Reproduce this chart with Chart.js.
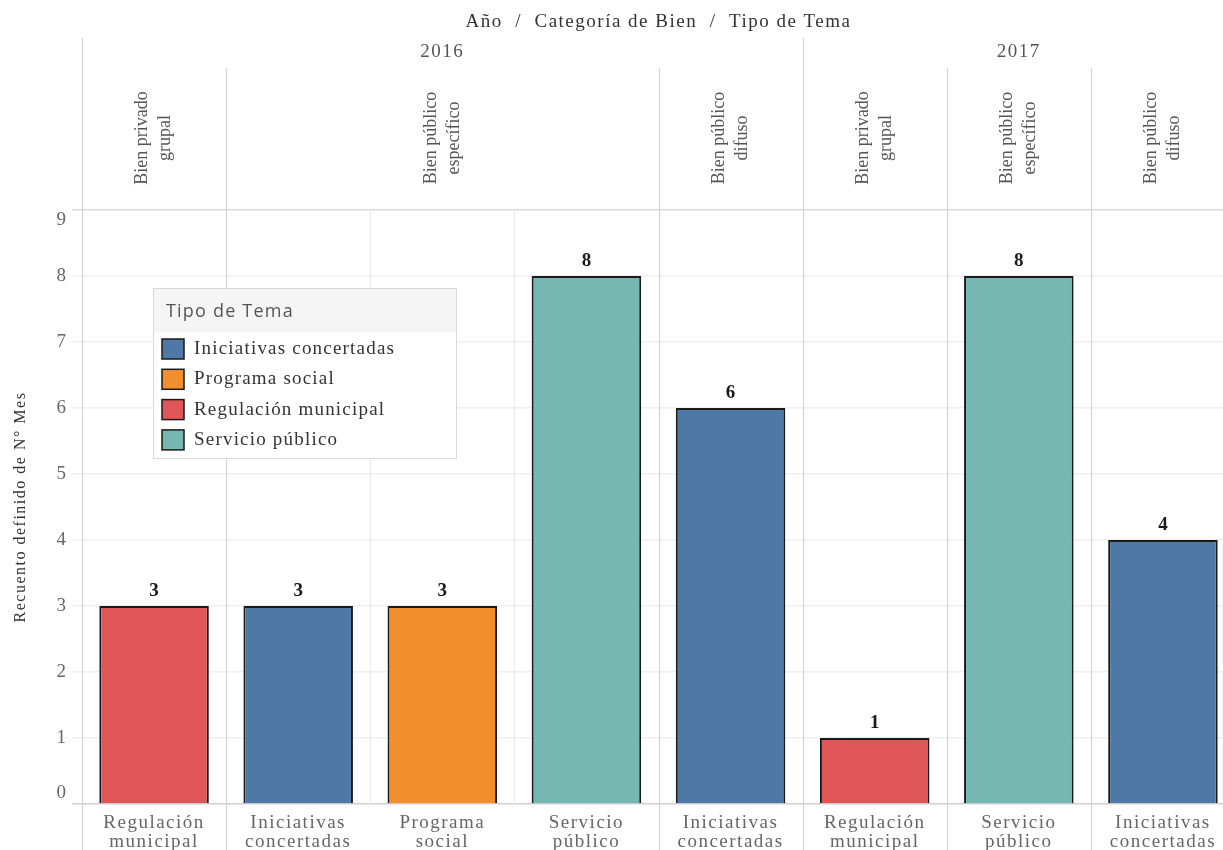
<!DOCTYPE html>
<html>
<head>
<meta charset="utf-8">
<script src="https://cdn.jsdelivr.net/npm/chart.js@4.4.0/dist/chart.umd.min.js"></script>
<style>
  html, body { margin: 0; padding: 0; background: #fff; overflow: hidden; }
  #wrap { width: 1235px; height: 850px; }
</style>
</head>
<body>
<div id="wrap"><canvas id="chart" width="1235" height="850"></canvas></div>
<script>
const anios = ["2016", "2016", "2016", "2016", "2016", "2017", "2017", "2017"];
const categorias = [
  "Bien privado grupal", "Bien público específico", "Bien público específico", "Bien público específico",
  "Bien público difuso", "Bien privado grupal", "Bien público específico", "Bien público difuso"
];
const temas = [
  "Regulación municipal", "Iniciativas concertadas", "Programa social", "Servicio público",
  "Iniciativas concertadas", "Regulación municipal", "Servicio público", "Iniciativas concertadas"
];
const recuento = [3, 3, 3, 8, 6, 1, 8, 4];
const temasLeyenda = ["Iniciativas concertadas", "Programa social", "Regulación municipal", "Servicio público"];
const yTicks = [0, 1, 2, 3, 4, 5, 6, 7, 8, 9];

const colorTema = {
  "Iniciativas concertadas": "#4e79a7",
  "Programa social": "#f28e2b",
  "Regulación municipal": "#e15759",
  "Servicio público": "#76b7b2"
};

const SERIF = '"Liberation Serif", "Times New Roman", serif';
const ESPACIADO = "1.5px";

// two-line labels
function partir(texto) {
  const i = texto.indexOf(" ");
  return [texto.slice(0, i), texto.slice(i + 1)];
}
function partirUltimo(texto) {
  const i = texto.lastIndexOf(" ");
  return [texto.slice(0, i), texto.slice(i + 1)];
}

// consecutive runs of the same key
function tramos(claves) {
  const out = [];
  claves.forEach((k, i) => {
    const ultimo = out[out.length - 1];
    if (ultimo && ultimo.clave === k) ultimo.fin = i;
    else out.push({ clave: k, inicio: i, fin: i });
  });
  return out;
}

function bordeColumna(chart, i) {
  const a = chart.chartArea, x = chart.scales.x, n = recuento.length;
  if (i === 0) return a.left;
  if (i === n) return a.right;
  return (x.getPixelForValue(i - 1) + x.getPixelForValue(i)) / 2;
}

const encabezados = {
  id: "encabezados",
  beforeDraw(chart) {
    chart.ctx.letterSpacing = ESPACIADO;
  },
  beforeDatasetsDraw(chart) {
    const { ctx, chartArea: a } = chart;
    const H = chart.height;
    ctx.save();
    ctx.lineWidth = 1.2;
    for (let i = 0; i < recuento.length; i++) {
      const px = Math.round(bordeColumna(chart, i)) + 0.5;
      let y0, y1, color;
      if (i === 0 || anios[i] !== anios[i - 1]) {
        y0 = 38; y1 = H; color = "#d4d4d4";
      } else if (categorias[i] !== categorias[i - 1]) {
        y0 = 68; y1 = H; color = "#d4d4d4";
      } else {
        y0 = a.top; y1 = a.bottom; color = "#ebebeb";
      }
      ctx.strokeStyle = color;
      ctx.beginPath();
      ctx.moveTo(px, y0);
      ctx.lineTo(px, y1);
      ctx.stroke();
    }
    ctx.restore();
  },
  afterDatasetsDraw(chart) {
    const ctx = chart.ctx;
    const meta = chart.getDatasetMeta(0);
    ctx.save();
    ctx.letterSpacing = "0px";
    ctx.font = "bold 19px " + SERIF;
    ctx.fillStyle = "#1a1a1a";
    ctx.textAlign = "center";
    ctx.textBaseline = "middle";
    meta.data.forEach((bar, i) => {
      ctx.fillText(String(recuento[i]), bar.x, bar.y - 15);
    });
    ctx.restore();
  },
  afterDraw(chart) {
    const { ctx, chartArea: a, scales: { y } } = chart;
    ctx.save();
    ctx.letterSpacing = ESPACIADO;
    ctx.textAlign = "center";
    ctx.textBaseline = "middle";

    // title row
    ctx.font = "19px " + SERIF;
    ctx.fillStyle = "#333";
    ctx.fillText("Año  /  Categoría de Bien  /  Tipo de Tema", (a.left + a.right) / 2, 22);

    // year row
    ctx.fillStyle = "#555";
    tramos(anios).forEach(t => {
      const cx = (bordeColumna(chart, t.inicio) + bordeColumna(chart, t.fin + 1)) / 2;
      ctx.fillText(t.clave, cx, 52);
    });

    // category row, rotated
    ctx.letterSpacing = "0px";
    ctx.font = "18px " + SERIF;
    tramos(anios.map((an, i) => an + "|" + categorias[i])).forEach(t => {
      const cx = (bordeColumna(chart, t.inicio) + bordeColumna(chart, t.fin + 1)) / 2;
      const lineas = partirUltimo(categorias[t.inicio]);
      ctx.save();
      ctx.translate(cx, 138);
      ctx.rotate(-Math.PI / 2);
      lineas.forEach((l, k) => ctx.fillText(l, 0, (k - 0.5) * 23));
      ctx.restore();
    });

    // y tick labels, end values kept inside the plot band
    ctx.letterSpacing = ESPACIADO;
    ctx.font = "19px " + SERIF;
    ctx.fillStyle = "#666";
    yTicks.forEach(v => {
      let py = y.getPixelForValue(v);
      py = Math.min(Math.max(py, a.top + 10), a.bottom - 11);
      ctx.fillText(String(v), 62, py);
    });

    // legend
    const lx = 153.5, ly = 288.5, lw = 303, lh = 170;
    ctx.fillStyle = "#fff";
    ctx.fillRect(lx, ly, lw, lh);
    ctx.fillStyle = "#f5f5f5";
    ctx.fillRect(lx, ly, lw, 44);
    ctx.strokeStyle = "#d9d9d9";
    ctx.lineWidth = 1;
    ctx.strokeRect(lx, ly, lw, lh);
    ctx.textAlign = "left";
    ctx.font = '18px "Open Sans", sans-serif';
    ctx.letterSpacing = "1.2px";
    ctx.fillStyle = "#555";
    ctx.fillText("Tipo de Tema", 166, 312);
    ctx.letterSpacing = "1.2px";
    ctx.font = "19px " + SERIF;
    temasLeyenda.forEach((t, k) => {
      const cy = 349 + k * 30.3;
      ctx.fillStyle = colorTema[t];
      ctx.fillRect(162, cy - 10, 22, 20);
      ctx.strokeStyle = "#1a1a1a";
      ctx.lineWidth = 1.5;
      ctx.strokeRect(162, cy - 10, 22, 20);
      ctx.fillStyle = "#333";
      ctx.fillText(t, 194, cy);
    });
    ctx.restore();
  }
};

new Chart(document.getElementById("chart"), {
  type: "bar",
  data: {
    labels: temas.map(partir),
    datasets: [{
      data: recuento,
      backgroundColor: temas.map(t => colorTema[t]),
      borderColor: "#1a1a1a",
      borderWidth: 2,
      borderSkipped: "bottom",
      barPercentage: 0.76,
      categoryPercentage: 1
    }]
  },
  options: {
    responsive: false,
    animation: false,
    layout: { padding: { top: 210, left: 0, right: 0, bottom: 0 } },
    plugins: { legend: { display: false }, tooltip: { enabled: false } },
    scales: {
      x: {
        grid: { display: false },
        border: { display: false },
        ticks: {
          color: "#666",
          font: { family: SERIF, size: 19, lineHeight: 1.0 },
          padding: 2,
          maxRotation: 0,
          autoSkip: false
        },
        afterFit(scale) { scale.height = 46; }
      },
      y: {
        min: 0,
        max: 9,
        grid: {
          color: c => c.tick.value === 0 ? "#cfcfcf" : c.tick.value === 9 ? "#d9d9d9" : "#efefef",
          lineWidth: 1.5,
          tickLength: 10
        },
        border: { display: false },
        ticks: { display: false, stepSize: 1 },
        title: {
          display: true,
          text: "Recuento definido de N° Mes",
          color: "#333",
          font: { family: SERIF, size: 16 },
          padding: { top: 11, bottom: 0 }
        },
        afterFit(scale) { scale.width = 82; }
      }
    }
  },
  plugins: [encabezados]
});
</script>
</body>
</html>
